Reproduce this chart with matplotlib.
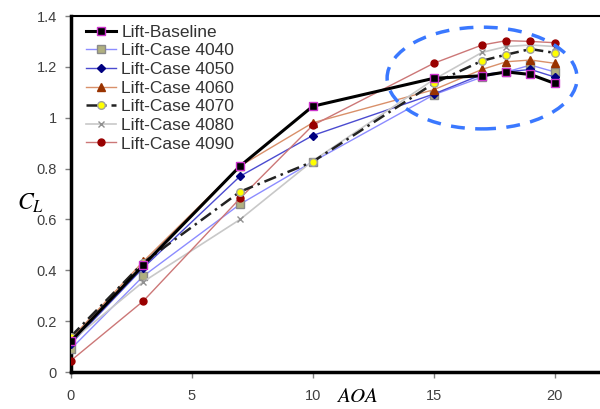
import matplotlib
matplotlib.use("Agg")
import matplotlib.pyplot as plt
from matplotlib.patches import Ellipse

# angle of attack
aoa = [0, 3, 7, 10, 15, 17, 18, 19, 20]

# lift coefficient for each case
cl_base = [0.12, 0.42, 0.81, 1.045, 1.155, 1.165, 1.18, 1.17, 1.135]
cl_4040 = [0.09, 0.377, 0.66, 0.827, 1.09, 1.16, 1.18, 1.207, 1.18]
cl_4050 = [0.11, 0.41, 0.77, 0.93, 1.093, 1.17, 1.18, 1.19, 1.16]
cl_4060 = [0.13, 0.435, 0.81, 0.98, 1.11, 1.19, 1.22, 1.227, 1.214]
cl_4070 = [0.139, 0.43, 0.709, 0.827, 1.135, 1.224, 1.248, 1.27, 1.255]
cl_4080 = [0.12, 0.355, 0.60, 0.83, 1.15, 1.257, 1.28, 1.286, 1.28]
cl_4090 = [0.044, 0.279, 0.683, 0.97, 1.214, 1.286, 1.303, 1.30, 1.295]

labels = ["Lift-Baseline", "Lift-Case 4040", "Lift-Case 4050", "Lift-Case 4060",
          "Lift-Case 4070", "Lift-Case 4080", "Lift-Case 4090"]

plt.rcParams['font.family'] = ['Liberation Sans', 'DejaVu Sans']

fig = plt.figure(figsize=(6.0, 4.09), dpi=100)
ax = fig.add_axes([70.7/600, 37/409, 532.4/600, 356/409])

ax.plot(aoa, cl_4040, color='#8c8cff', lw=1.0, marker='s', ms=6,
        mfc='#b0b080', mec='#8a8a8a', label=labels[1], zorder=3)
ax.plot(aoa, cl_4050, color='#4b4bd0', lw=1.0, marker='D', ms=4,
        mfc='#000080', mec='#000080', label=labels[2], zorder=3)
ax.plot(aoa, cl_4060, color='#d9906a', lw=1.0, marker='^', ms=6,
        mfc='#993300', mec='#993300', label=labels[3], zorder=3)
ax.plot(aoa, cl_4070, color='#222222', lw=1.8, ls=(0, (5, 2, 1, 2)), marker='o', ms=5.5,
        mfc='#ffff00', mec='#a0a0a0', label=labels[4], zorder=4)
ax.plot(aoa, cl_4080, color='#c8c8c8', lw=1.2, marker='x', ms=5,
        mec='#909090', label=labels[5], zorder=3)
ax.plot(aoa, cl_4090, color='#cc7777', lw=1.0, marker='o', ms=5,
        mfc='#990000', mec='#990000', label=labels[6], zorder=3)
ax.plot(aoa, cl_base, color='black', lw=2.2, marker='s', ms=5.5,
        mfc='black', mec='#cc33cc', label=labels[0], zorder=5)

# highlight the stall region
ax.add_patch(Ellipse((17.0, 1.156), 7.85, 0.40, fill=False, ec='#3a78ff',
                     lw=2.5, ls=(0, (4, 3)), zorder=6))

ax.set_xlim(0, 22)
ax.set_ylim(0, 1.4)
ax.set_xticks([0, 5, 10, 15, 20])
ax.set_yticks([0, 0.2, 0.4, 0.6, 0.8, 1.0, 1.2, 1.4])
ax.set_yticklabels(["0", "0.2", "0.4", "0.6", "0.8", "1", "1.2", "1.4"])
ax.tick_params(axis='both', labelsize=10.5, labelcolor='#404040', color='#808080',
               length=4, width=1)
ax.tick_params(axis='x', pad=8)
ax.tick_params(axis='y', pad=6)

for s in ['left', 'bottom']:
    ax.spines[s].set_linewidth(2.5)
ax.spines['top'].set_linewidth(1.5)
ax.spines['right'].set_visible(False)

h, l = ax.get_legend_handles_labels()
order = [6, 0, 1, 2, 3, 4, 5]
ax.legend([h[i] for i in order], [l[i] for i in order], loc='upper left',
          bbox_to_anchor=(0.01, 1.005), frameon=False, fontsize=12.5,
          handlelength=1.7, handletextpad=0.3, labelspacing=0.2,
          labelcolor='#333333', borderaxespad=0.2)

fig.text(30/600, 1 - 203/409, r'$C_L$', fontsize=17, ha='center', va='center',
         math_fontfamily='stix')
fig.text(357/600, 1 - 387/409, r'$AOA$', fontsize=15, ha='center', va='top',
         math_fontfamily='stix')

fig.savefig('out.png', dpi=100)
